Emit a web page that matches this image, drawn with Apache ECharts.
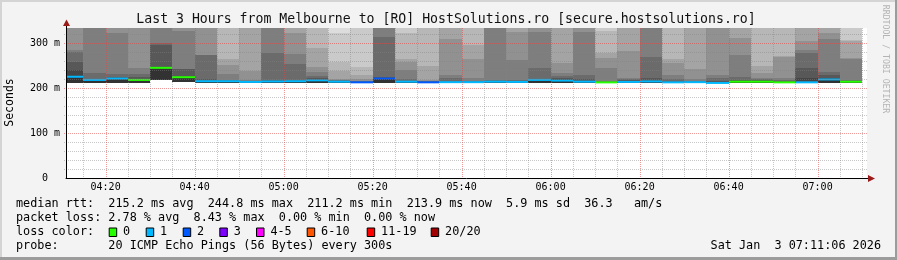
<!DOCTYPE html>
<html><head><meta charset="utf-8">
<script src="https://cdn.jsdelivr.net/npm/echarts@6/dist/echarts.min.js"></script>
<style>html,body{margin:0;padding:0;background:#f3f3f3}#c{width:897px;height:260px}</style>
</head><body><div id="c"></div>
<script>
// ---------- data ----------
const rangeStart = '04:11:06';
const rangeEnd = '07:11:06';
const stepMinutes = 5;
const pingsPerProbe = 20;
// end time of each 5-minute probe round
const slotEnds = ['04:15','04:20','04:25','04:30','04:35','04:40','04:45','04:50','04:55','05:00','05:05','05:10',
  '05:15','05:20','05:25','05:30','05:35','05:40','05:45','05:50','05:55','06:00','06:05','06:10',
  '06:15','06:20','06:25','06:30','06:35','06:40','06:45','06:50','06:55','07:00','07:05','07:10'];
// median rtt (ms) = 11th of 20 sorted pings
const medianMs = [225,218,221,218,244.8,224,215,215,213.5,214.5,215,217,
  214,212.6,221,214,212.6,213,213,214,213.5,218,216.5,214,
  212.5,213.5,214.5,212.6,213,211.2,214,214,212.6,212.6,219,213.9];
// 10th sorted ping (ms): lower edge of the darkest smoke band
const lowMs = [212,212,212,212,218,213,212,212,211.5,212,212,212,
  212,211.5,212,212,211.5,211.5,211.5,212,211.5,212,212,212,
  211.5,211.5,212,211.5,211.5,210.5,212,212,211.5,211.5,212,211.5];
// sorted pings above the median (ms) that are still inside the axis range; the rest lie above the top
const upperMs = [
  [240,258,279,284],
  [219,221,234],
  [222,223.7,232,323],
  [219,224,231,244],
  [246,295,299],
  [226.7,241.5,242,327],
  [216,220,273,274],
  [216,217,218,231,251,264],
  [214,215,216,218,238.5],
  [215,217,278],
  [216,218,253,275,322],
  [219,222,226.7,236,247,289.6],
  [215,216,217,217.8,220.7,238.5,258.5,321.5],
  [213,214,215,216,219,228,247],
  [223,225,314],
  [215,216,219,241,258.5,263.7,322],
  [213,214,215,216,217,249],
  [214,215,222,229,310],
  [214,215,216,221.5,263.7,295.5],
  [215,216,217.5],
  [214.5,216,217,262,323.7],
  [219,220.7,243.7,323.7],
  [219,222.5,226.7,234,254.8],
  [216,219,229,323.7],
  [213,214,215.6,243.7,266,277,326.7],
  [215,217,219,221.5,282],
  [216,221.5,268],
  [214,216,219,229,254.8,263.7],
  [214,215,216,220,241.5],
  [214,216,221.5,229],
  [215.5,218,223.7,273,312],
  [215.5,217,219,221.5,232.6,250],
  [214,216,218,221.5,269.6,270.5],
  [221.5,243.7,277,284.4,304.4],
  [222,230,236,308,323],
  [214,215.5,217.8,264,266,303.7,306.7]
];
// packet loss per round (%)
const lossPct = [3.0,4.2,2.5,0,0,0,2.0,3.6,4.5,2.8,3.1,4.0,
  1.9,8.43,6.2,3.3,5.6,2.7,4.4,3.0,2.4,3.8,4.6,2.2,
  0,3.5,2.9,4.1,3.2,2.6,0,0,0,3.9,1.8,0];
const lossLabels = ['0','1','2','3','4-5','6-10','11-19','20/20'];
const lossMaxPings = [0,1,2,3,5,10,19,20];
const lossColors = ['#26ff00','#00b8ff','#0059ff','#7e00ff','#ff00ff','#ff5500','#ff0000','#a10000'];
const xTickLabels = ['04:20','04:40','05:00','05:20','05:40','06:00','06:20','06:40','07:00'];
const yTickMs = [0,100,200,300];
const yTickLabels = ['0  ','100 m','200 m','300 m'];
const yMinorStepMs = 20;
const titleText = 'Last 3 Hours from Melbourne to [RO] HostSolutions.ro [secure.hostsolutions.ro]';
const statLines = [
  'median rtt:  215.2 ms avg  244.8 ms max  211.2 ms min  213.9 ms now  5.9 ms sd  36.3   am/s',
  'packet loss: 2.78 % avg  8.43 % max  0.00 % min  0.00 % now',
  'loss color:',
  'probe:       20 ICMP Echo Pings (56 Bytes) every 300s'
];
const stampText = 'Sat Jan  3 07:11:06 2026';
const yAxisName = 'Seconds';
const creditText = 'RRDTOOL / TOBI OETIKER';

// ---------- helpers ----------
function toMin(s) { const p = s.split(':').map(Number); return p[0]*60 + p[1] + (p[2]||0)/60; }
const X_MIN = toMin(rangeStart), X_MAX = toMin(rangeEnd);
const Y_MAX = 150 / 0.45; // plot height 150px at 45px per 100 ms
const HALF = pingsPerProbe / 2;
function shade(band) { const c = Math.round(190/HALF*(HALF-band))+50; const h = c.toString(16).padStart(2,'0'); return '#'+h+h+h; }
function lossColor(pct) {
  const lost = pct/100*pingsPerProbe;
  for (let j = 0; j < lossMaxPings.length; j++) if (lost <= lossMaxPings[j] + 1e-9) return lossColors[j];
  return lossColors[lossColors.length-1];
}
const MONO = '"DejaVu Sans Mono", monospace';

function renderSmoke(params, api) {
  const i = params.dataIndex;
  const end = api.value(0), start = end - stepMinutes;
  const cs = params.coordSys;
  let x0 = Math.round(api.coord([start, 0])[0]);
  const x1 = Math.round(api.coord([end, 0])[0]);
  x0 = Math.max(x0, Math.round(cs.x));
  const yOf = v => Math.round(api.coord([end, Math.min(v, Y_MAX)])[1]);
  const pings = [lowMs[i], medianMs[i]].concat(upperMs[i], [Y_MAX]);
  const children = [];
  for (let k = 0; k < pings.length - 1; k++) {
    const band = HALF - k;
    const yt = yOf(pings[k+1]), yb = yOf(pings[k]);
    if (yb - yt <= 0) continue;
    children.push({type:'rect', shape:{x:x0, y:yt, width:x1-x0, height:yb-yt}, style:{fill:shade(band)}});
  }
  const ym = api.coord([end, medianMs[i]])[1];
  children.push({type:'rect', shape:{x:x0, y:ym-1, width:x1-x0, height:2}, style:{fill:lossColor(lossPct[i])}});
  return {type:'group', children};
}

const majorColor = 'rgba(225,70,70,0.55)';
const minorColor = 'rgba(130,130,130,0.45)';
function renderGrid(params, api) {
  const cs = params.coordSys;
  const children = [];
  const top = cs.y, bottom = cs.y + cs.height, left = cs.x, right = cs.x + cs.width;
  // horizontal lines
  for (let v = yMinorStepMs; v < Y_MAX; v += yMinorStepMs) {
    const y = Math.round(api.coord([X_MIN, v])[1]) + 0.5;
    const major = yTickMs.indexOf(v) >= 0;
    children.push({type:'line', shape:{x1:left-2, y1:y, x2:right, y2:y},
      style:{stroke: major ? majorColor : minorColor, lineWidth:1, lineDash:[1,1]}});
  }
  // vertical lines (every probe step)
  slotEnds.forEach(s => {
    const m = toMin(s);
    if (m <= X_MIN || m >= X_MAX) return;
    const x = Math.round(api.coord([m, 0])[0]) + 0.5;
    const major = xTickLabels.indexOf(s) >= 0;
    children.push({type:'line', shape:{x1:x, y1:top, x2:x, y2:bottom+2},
      style:{stroke: major ? majorColor : minorColor, lineWidth:1, lineDash:[1,1]}});
  });
  // x labels
  xTickLabels.forEach(s => {
    const p = api.coord([toMin(s), 0]);
    children.push({type:'text', style:{text:s, x:p[0], y:p[1]+9, align:'center', verticalAlign:'middle',
      textAlign:'center', textVerticalAlign:'middle', font:'10px '+MONO, fill:'#000'}});
  });
  return {type:'group', children};
}

const graphics = [];
// frame
graphics.push({type:'rect', shape:{x:0,y:0,width:897,height:2}, style:{fill:'#d4d4d4'}, z:100});
graphics.push({type:'rect', shape:{x:0,y:0,width:2,height:260}, style:{fill:'#d4d4d4'}, z:100});
graphics.push({type:'rect', shape:{x:0,y:257,width:897,height:3}, style:{fill:'#9c9c9c'}, z:100});
graphics.push({type:'rect', shape:{x:895,y:0,width:2,height:260}, style:{fill:'#9c9c9c'}, z:100});
// axis extensions + arrows
graphics.push({type:'line', shape:{x1:66.5,y1:28,x2:66.5,y2:24}, style:{stroke:'#000',lineWidth:1}, z:100});
graphics.push({type:'line', shape:{x1:867,y1:178.5,x2:869,y2:178.5}, style:{stroke:'#000',lineWidth:1}, z:100});
graphics.push({type:'polygon', shape:{points:[[66.5,19.5],[63,26],[70,26]]}, style:{fill:'#9b1b1b'}, z:100});
graphics.push({type:'polygon', shape:{points:[[875,178.5],[868,175],[868,182]]}, style:{fill:'#9b1b1b'}, z:100});
function txt(text, x, y, font, opts) {
  return Object.assign({type:'text', x:x, y:y, z:100, style:Object.assign({text:text, x:0, y:0, font:font, fill:'#000',
    align:'left', verticalAlign:'middle', textAlign:'left', textVerticalAlign:'middle'}, (opts&&opts.style)||{})}, (opts&&opts.el)||{});
}
graphics.push(txt(titleText, 446, 19.5, '13.2px '+MONO, {style:{align:'center', textAlign:'center', fill:'#111'}}));
graphics.push(txt(yAxisName, 10.5, 102.5, '11.5px '+MONO, {style:{align:'center', textAlign:'center'}, el:{rotation:Math.PI/2}}));
graphics.push(txt(creditText, 885.5, 59, '8.2px '+MONO, {style:{align:'center', textAlign:'center', fill:'#b4b4b4'}, el:{rotation:-Math.PI/2}}));
const lineY = [204.3, 218.3, 232.3, 246.2];
const LFONT = '11.8px '+MONO;
statLines.forEach((s, k) => graphics.push(txt(s, 16, lineY[k], LFONT)));
graphics.push(txt(stampText, 881, lineY[3], LFONT, {style:{align:'right', textAlign:'right'}}));
const boxLeft = [108.7,145.7,182.7,219.3,256,306.7,366.7,430.7];
lossLabels.forEach((lab, j) => {
  graphics.push({type:'rect', shape:{x:boxLeft[j]+0.5, y:228, width:7.5, height:8.5}, style:{fill:lossColors[j], stroke:'#000', lineWidth:1}, z:100});
  graphics.push(txt(lab, boxLeft[j]+14.4, lineY[2], LFONT));
});

const chart = echarts.init(document.getElementById('c'), null, {renderer:'canvas', width:897, height:260});
chart.setOption({
  backgroundColor:'#f3f3f3',
  animation:false,
  grid:{left:66, right:30, top:28, bottom:82, show:true, backgroundColor:'#ffffff', borderWidth:0},
  xAxis:{type:'value', min:X_MIN, max:X_MAX, z:10,
    axisLine:{show:true, lineStyle:{color:'#000', width:1}}, axisTick:{show:false}, axisLabel:{show:false}, splitLine:{show:false}},
  yAxis:{type:'value', min:0, max:Y_MAX, interval:100, z:10,
    axisLine:{show:true, onZero:false, lineStyle:{color:'#000', width:1}}, axisTick:{show:false}, splitLine:{show:false},
    axisLabel:{margin:6, fontSize:10, fontFamily:MONO, color:'#000', showMaxLabel:false,
      formatter:v => { const j = yTickMs.indexOf(Math.round(v*1000)/1000); return j >= 0 ? yTickLabels[j] : ''; }}},
  series:[
    {type:'custom', name:'smoke', renderItem:renderSmoke, clip:true, silent:true, z:2,
      encode:{x:0, y:1}, data:slotEnds.map((s,i) => [toMin(s), medianMs[i]])},
    {type:'custom', name:'grid', renderItem:renderGrid, clip:false, silent:true, z:5,
      encode:{x:0, y:1}, data:[[X_MIN, 0]]}
  ],
  graphic:graphics
});
</script></body></html>
